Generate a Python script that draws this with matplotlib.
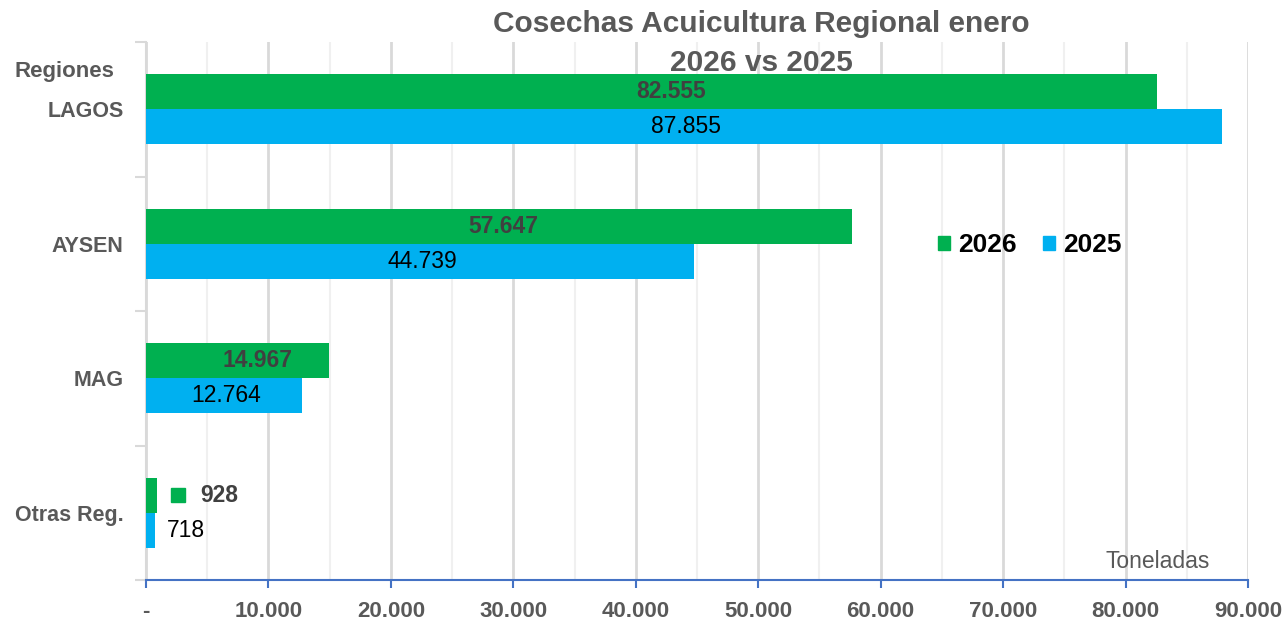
import matplotlib.pyplot as plt
import numpy as np
from matplotlib.ticker import FuncFormatter, MultipleLocator

plt.rcParams['font.family'] = ['Liberation Sans', 'DejaVu Sans']

regiones = ["LAGOS", "AYSEN", "MAG", "Otras Reg."]
v2026 = [82555, 57647, 14967, 928]
v2025 = [87855, 44739, 12764, 718]
ticks_x = np.arange(0, 90001, 10000)

verde = "#00B050"
azul = "#00B0F0"
gris = "#595959"


def miles(v, pos=None):
    if v == 0:
        return "-"
    return f"{v:,.0f}".replace(",", ".")


fig = plt.figure(figsize=(12.88, 6.21), dpi=100)
ax = fig.add_axes([146/1288, 1-580/621, 1102/1288, 538/621])

y = np.arange(len(regiones))
h = 0.262
ax.barh(y - h/2, v2026, height=h, color=verde, zorder=3)
ax.barh(y + h/2, v2025, height=h, color=azul, zorder=3)

# etiquetas de datos
desplaz = [1600, 400, 1600, 0]
for i in range(len(regiones)):
    if v2026[i] > 5000:
        ax.text(v2026[i]/2 + desplaz[i], y[i] - h/2, miles(v2026[i]), ha="center", va="center",
                fontsize=16.5, fontweight="bold", color="#404040", zorder=4)
        ax.text(v2025[i]/2 + 200, y[i] + h/2, miles(v2025[i]), ha="center", va="center",
                fontsize=16.5, color="black", zorder=4)
    else:
        ax.plot(2600, y[i] - h/2, marker="s", ms=10, color=verde, zorder=4)
        ax.text(4400, y[i] - h/2, miles(v2026[i]), ha="left", va="center",
                fontsize=16.5, fontweight="bold", color="#404040", zorder=4)
        ax.text(v2025[i] + 1000, y[i] + h/2, miles(v2025[i]), ha="left", va="center",
                fontsize=16.5, color="black", zorder=4)

ax.set_xlim(0, 90000)
ax.set_ylim(len(regiones) - 0.5, -0.5)
ax.set_xticks(ticks_x)
ax.xaxis.set_major_formatter(FuncFormatter(miles))
ax.xaxis.set_minor_locator(MultipleLocator(5000))
ax.grid(axis="x", which="major", color="#D9D9D9", lw=2, zorder=0)
ax.grid(axis="x", which="minor", color="#F0F0F0", lw=1.5, zorder=0)

ax.set_yticks(y)
ax.set_yticklabels(regiones)
ax.set_yticks(np.arange(-0.5, len(regiones)), minor=True)
ax.tick_params(axis="y", which="major", length=0, pad=16, labelsize=15.5, labelcolor=gris)
for t in ax.get_yticklabels():
    t.set_fontweight("bold")
ax.tick_params(axis="y", which="minor", length=8, color="#D9D9D9", width=1.5)
ax.tick_params(axis="x", which="major", length=6, color="#4472C4", width=1.5,
               labelsize=16, labelcolor=gris, pad=9)
ax.tick_params(axis="x", which="minor", length=0)
for t in ax.get_xticklabels():
    t.set_fontweight("bold")

for s in ["top", "right"]:
    ax.spines[s].set_visible(False)
ax.spines["left"].set_color("#D9D9D9")
ax.spines["left"].set_linewidth(1.5)
ax.spines["bottom"].set_color("#4472C4")
ax.spines["bottom"].set_linewidth(1.5)

fig.text(761/1288, 1 - 10/621, "Cosechas Acuicultura Regional enero\n2026 vs 2025", ha="center", va="top",
         fontsize=21.5, fontweight="bold", color=gris, linespacing=1.5)
fig.text(15/1288, 1 - 71/621, "Regiones", ha="left", va="center", fontsize=16,
         fontweight="bold", color=gris)
fig.text(1210/1288, 1 - 562/621, "Toneladas", ha="right", va="center", fontsize=16.5, color=gris)

# leyenda
ax.legend(handles=[plt.Rectangle((0, 0), 1, 1, color=verde), plt.Rectangle((0, 0), 1, 1, color=azul)],
          labels=["2026", "2025"], loc="center", bbox_to_anchor=((1030 - 146)/1102, (580 - 245)/538),
          ncol=2, frameon=False, handlelength=0.45, handleheight=0.45, handletextpad=0.3,
          columnspacing=1.0, prop={"size": 19, "weight": "bold"})

fig.savefig("out.png", dpi=100)
